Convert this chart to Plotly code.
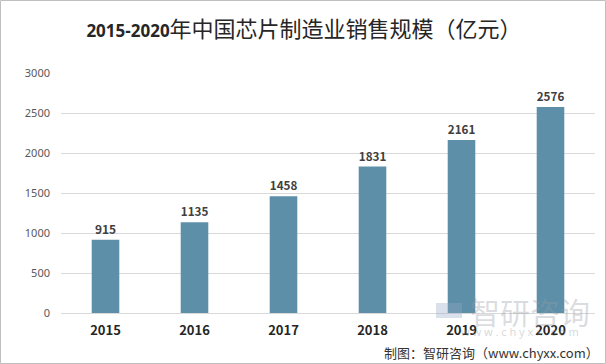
import plotly.graph_objects as go

years = ["2015", "2016", "2017", "2018", "2019", "2020"]
sales = [915, 1135, 1458, 1831, 2161, 2576]
y_ticks = [0, 500, 1000, 1500, 2000, 2500, 3000]

W, H = 606, 364
ml, mr, mt, mb = 61, 11, 73, 51
pw, ph = W - ml - mr, H - mt - mb

fig = go.Figure(go.Bar(
    x=years, y=sales, width=0.31,
    marker=dict(color="#5D8FA8", line=dict(width=0)),
    text=[str(v) for v in sales], textposition="outside",
    textfont=dict(family="Noto Sans CJK SC, Noto Sans", size=12, color="#404040", weight="bold"),
    cliponaxis=False,
))

def px2paper_x(px):
    return (px - ml) / pw

def px2paper_y(py):
    return (H - mb - py) / ph

title_text = ("<span style='font-family:Noto Sans;font-weight:bold;font-size:17px'>2015-2020</span>"
              "<span style='font-size:22px'>年中国芯片制造业销售规模（亿元）</span>")

fig.update_layout(
    width=W, height=H,
    margin=dict(l=ml, r=mr, t=mt, b=mb),
    paper_bgcolor="white", plot_bgcolor="white",
    showlegend=False,
    title=dict(text=title_text,
               x=304 / W, xanchor="center", y=1 - 29 / H, yanchor="middle",
               font=dict(family="Noto Sans CJK SC", size=22, color="#262626")),
    xaxis=dict(showgrid=False, showline=False, ticks="",
               tickfont=dict(family="Noto Sans CJK SC, Noto Sans", size=13, color="#262626", weight="bold"),
               ticklabelstandoff=8),
    yaxis=dict(range=[0, 3000], tickvals=y_ticks, showgrid=True, gridcolor="#D9D9D9", gridwidth=1,
               zeroline=True, zerolinecolor="#D9D9D9", zerolinewidth=1, showline=False, ticks="",
               tickfont=dict(family="Noto Sans", size=11, color="#595959"),
               ticklabelstandoff=10),
    shapes=[
        dict(type="rect", xref="paper", yref="paper",
             x0=px2paper_x(0.5), x1=px2paper_x(W - 0.5),
             y0=px2paper_y(H - 0.5), y1=px2paper_y(0.5),
             line=dict(color="#BFBFBF", width=1), fillcolor="rgba(0,0,0,0)", layer="above"),
        # watermark logo block
        dict(type="rect", xref="paper", yref="paper",
             x0=px2paper_x(436), x1=px2paper_x(462), y0=px2paper_y(318), y1=px2paper_y(303),
             line=dict(width=0), fillcolor="rgba(150,170,200,0.35)", layer="above"),
    ],
    annotations=[
        dict(text="智研咨询", xref="paper", yref="paper",
             x=px2paper_x(530), y=px2paper_y(311), xanchor="center", yanchor="middle",
             showarrow=False, font=dict(family="Noto Sans CJK SC", size=30, color="rgba(150,155,165,0.35)")),
        dict(text="w w w . c h y x x . c o m", xref="paper", yref="paper",
             x=px2paper_x(520), y=px2paper_y(331), xanchor="center", yanchor="middle",
             showarrow=False, font=dict(family="Noto Sans", size=11, color="rgba(150,155,165,0.4)")),
        dict(text="制图：智研咨询（www.chyxx.com）", xref="paper", yref="paper",
             x=px2paper_x(601), y=px2paper_y(352), xanchor="right", yanchor="middle",
             showarrow=False, font=dict(family="Noto Sans CJK SC", size=13, color="#333333")),
    ],
)

fig.write_html("out.html", config={"displayModeBar": False},
               post_script="document.body.style.margin='0';document.body.style.padding='0';")
